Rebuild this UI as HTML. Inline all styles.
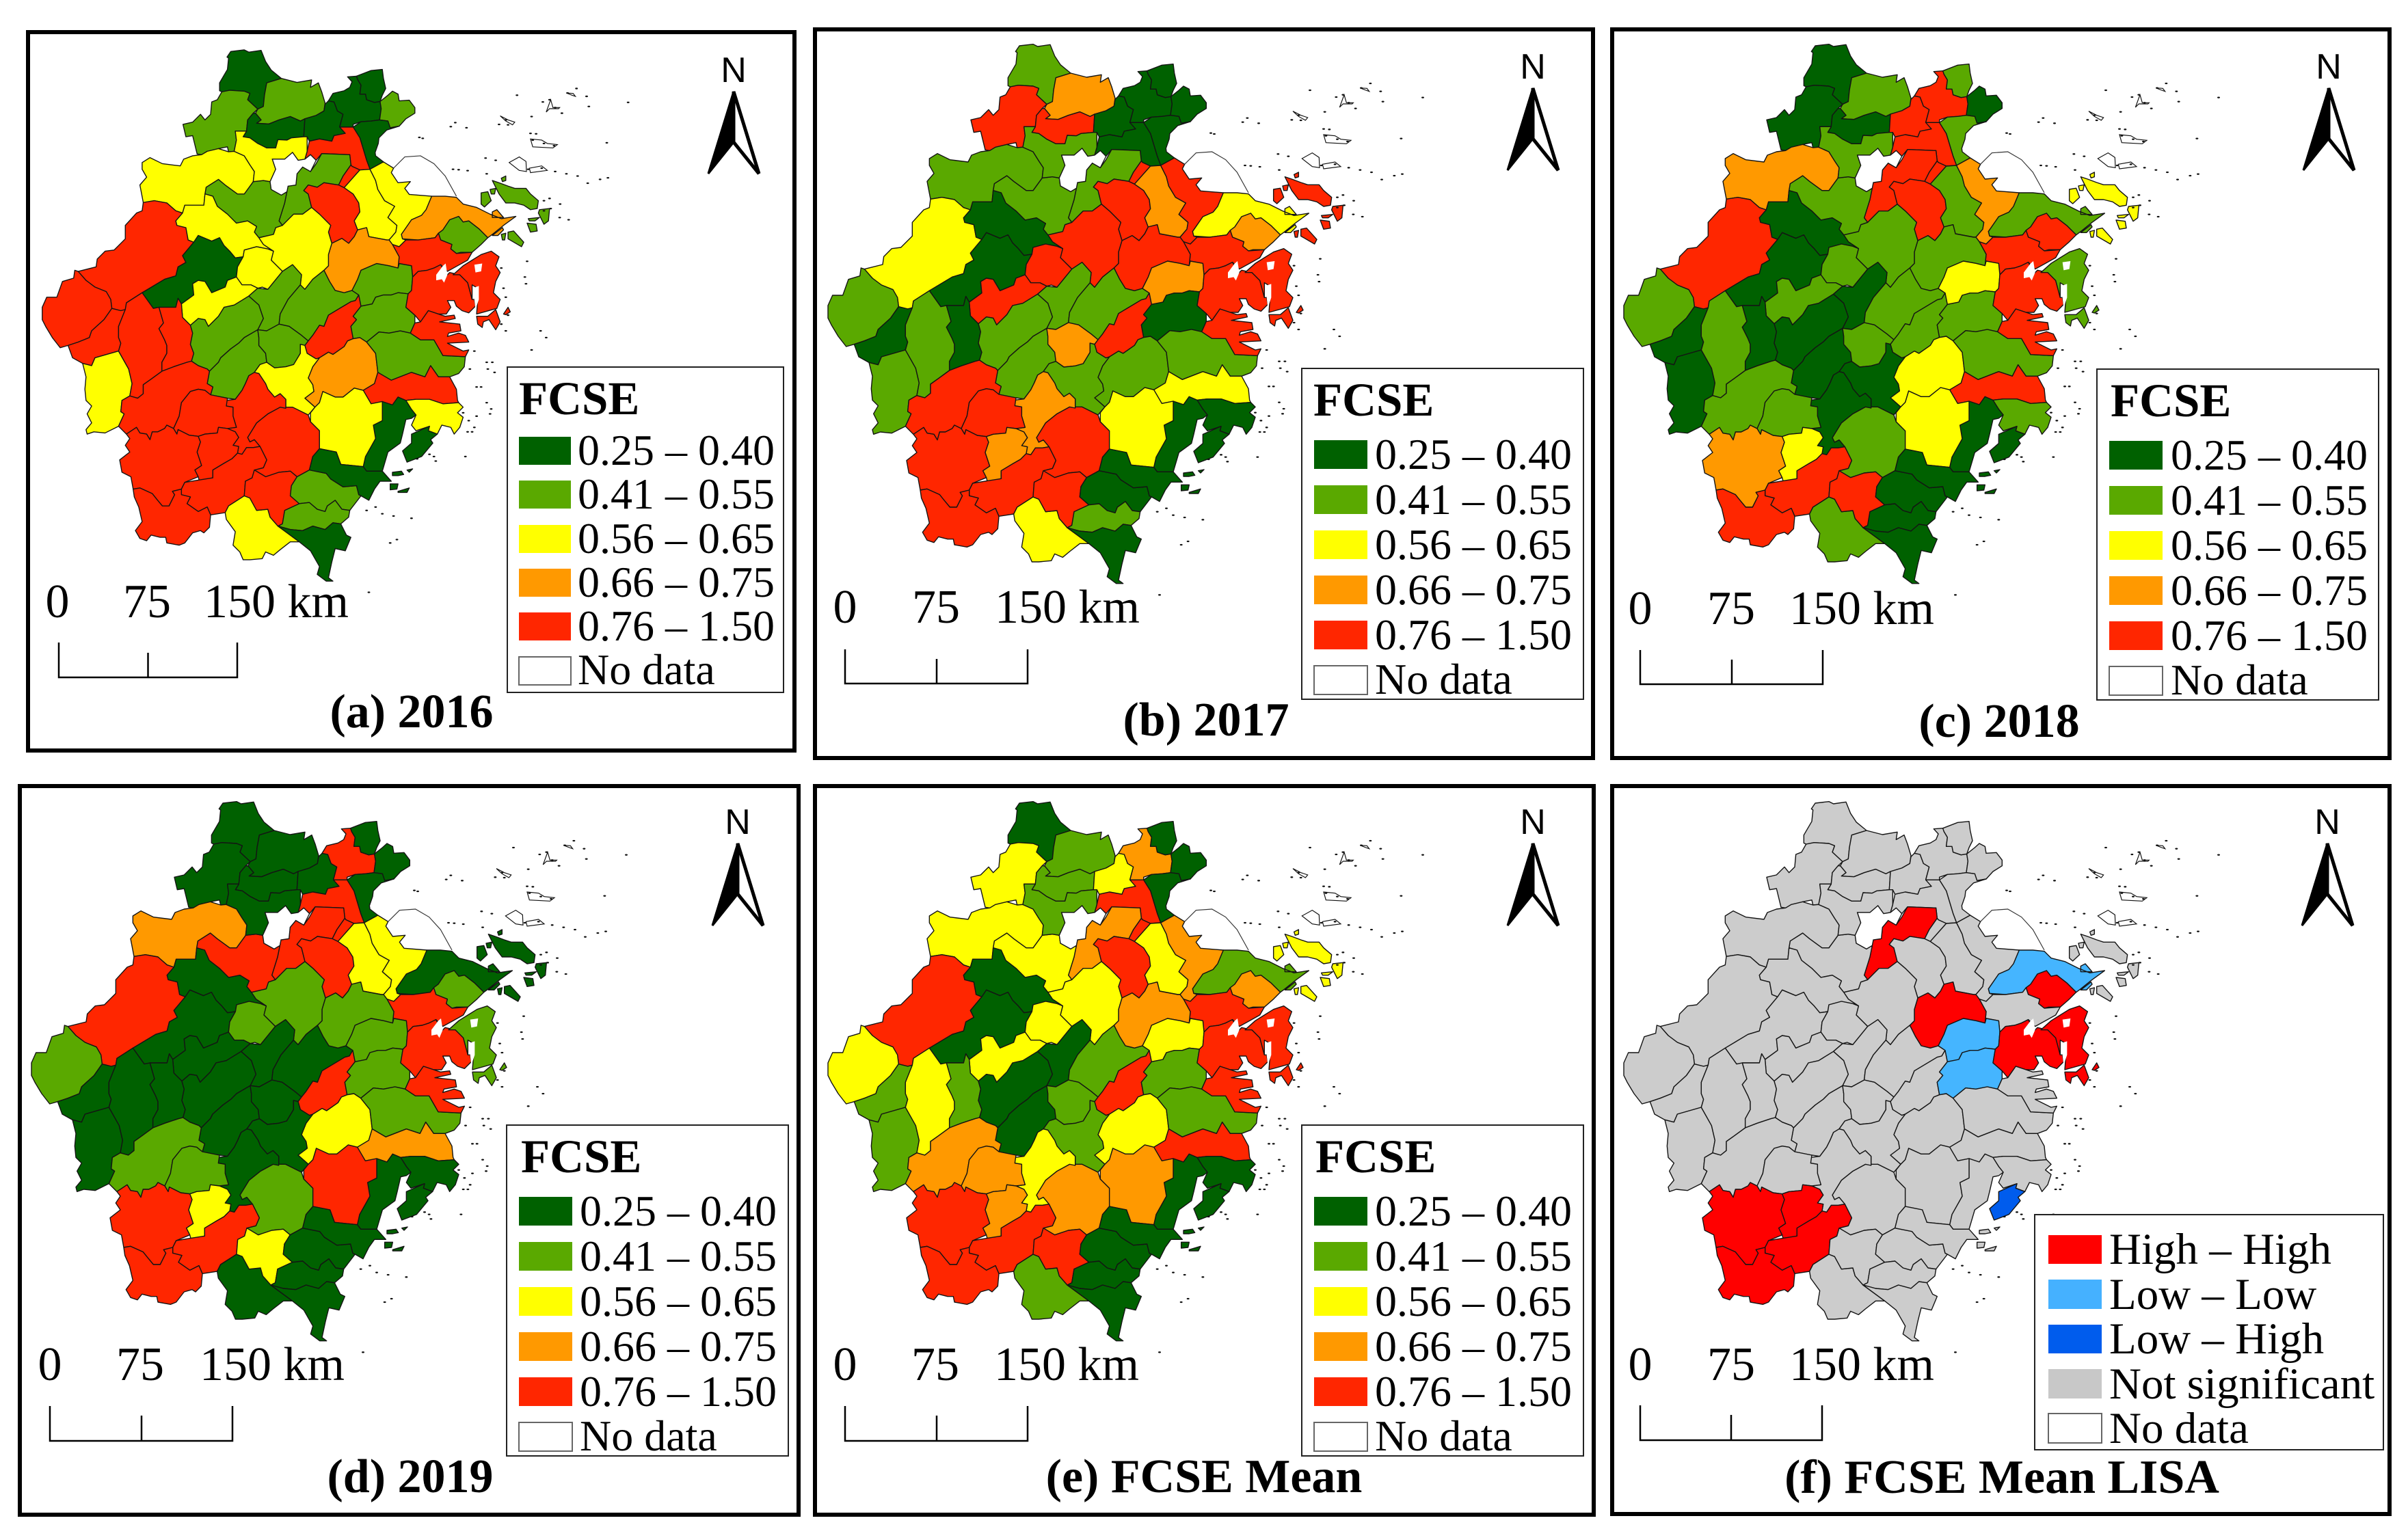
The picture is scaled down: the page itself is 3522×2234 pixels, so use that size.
<!DOCTYPE html>
<html lang="en">
<head>
<meta charset="utf-8">
<title>FCSE maps of Zhejiang counties, 2016–2019, mean and LISA</title>
<style>
html,body{margin:0;padding:0;background:#fff;}
svg{display:block;}
text{font-family:"Liberation Serif",serif;fill:#000;}
.lab{font-size:64px;}
#panel-f .lab{font-size:65px;}
.ttl{font-size:70px;font-weight:bold;}
.fc{font-size:69px;font-weight:bold;}
.scl{font-size:70px;}
.nn{font-family:"Liberation Sans",sans-serif;font-size:52px;text-anchor:middle;}
.frame{fill:none;stroke:#000;stroke-width:6;}
.box{fill:#fff;stroke:#222;stroke-width:2;}
.bar{fill:none;stroke:#000;stroke-width:2.5;}
.nd{fill:#fff;stroke:#666;stroke-width:2;}
.c1{fill:#006100}.c2{fill:#5aa900}.c3{fill:#ffff00}.c4{fill:#ff9900}.c5{fill:#ff2600}
.l1{fill:#ff0000}.l2{fill:#45b1ff}.l3{fill:#005ced}.l4{fill:#cccccc}
</style>
</head>
<body>
<svg id="figure" xmlns="http://www.w3.org/2000/svg" width="3522" height="2234" viewBox="0 0 3522 2234">
<rect width="3522" height="2234" fill="#fff"/>

<!-- PANEL A -->
<g>
<rect class="frame" x="41" y="47" width="1121" height="1051"/>
<g id="map-a"></g>
<g transform="translate(1073,120)"><text class="nn">N</text><polygon points="0,14 -37,134 0,88" fill="#000" stroke="#000" stroke-width="3"/><polygon points="0,14 37,134 0,88" fill="#fff" stroke="#000" stroke-width="5"/></g>
<rect class="box" x="742" y="537" width="404" height="476"/>
<text class="fc" x="759" y="606">FCSE</text>
<rect class="c1" x="759" y="639" width="76" height="41"/><text class="lab" x="845" y="680">0.25 – 0.40</text>
<rect class="c2" x="759" y="703" width="76" height="41"/><text class="lab" x="845" y="744">0.41 – 0.55</text>
<rect class="c3" x="759" y="768" width="76" height="41"/><text class="lab" x="845" y="809">0.56 – 0.65</text>
<rect class="c4" x="759" y="832" width="76" height="41"/><text class="lab" x="845" y="873">0.66 – 0.75</text>
<rect class="c5" x="759" y="896" width="76" height="41"/><text class="lab" x="845" y="937">0.76 – 1.50</text>
<rect class="nd" x="759" y="961" width="76" height="41"/><text class="lab" x="845" y="1001">No data</text>
<text class="scl" x="84" y="903" text-anchor="middle">0</text>
<text class="scl" x="215" y="903" text-anchor="middle">75</text>
<text class="scl" x="298" y="903">150 km</text>
<path class="bar" d="M86 940V991H347V940M216.500 955V991"/>
<text class="ttl" x="602" y="1064" text-anchor="middle">(a) 2016</text>
</g>

<!-- PANEL B -->
<g>
<rect class="frame" x="1192" y="43" width="1138" height="1066"/>
<g id="map-b"></g>
<g transform="translate(2242,115)"><text class="nn">N</text><polygon points="0,14 -37,134 0,88" fill="#000" stroke="#000" stroke-width="3"/><polygon points="0,14 37,134 0,88" fill="#fff" stroke="#000" stroke-width="5"/></g>
<rect class="box" x="1904" y="539" width="412" height="484"/>
<text class="fc" x="1921" y="608">FCSE</text>
<rect class="c1" x="1922" y="644" width="78" height="42"/><text class="lab" x="2011" y="686">0.25 – 0.40</text>
<rect class="c2" x="1922" y="710" width="78" height="42"/><text class="lab" x="2011" y="752">0.41 – 0.55</text>
<rect class="c3" x="1922" y="776" width="78" height="42"/><text class="lab" x="2011" y="818">0.56 – 0.65</text>
<rect class="c4" x="1922" y="842" width="78" height="42"/><text class="lab" x="2011" y="884">0.66 – 0.75</text>
<rect class="c5" x="1922" y="908" width="78" height="42"/><text class="lab" x="2011" y="950">0.76 – 1.50</text>
<rect class="nd" x="1922" y="974" width="78" height="42"/><text class="lab" x="2011" y="1015">No data</text>
<text class="scl" x="1236" y="911" text-anchor="middle">0</text>
<text class="scl" x="1369" y="911" text-anchor="middle">75</text>
<text class="scl" x="1455" y="911">150 km</text>
<path class="bar" d="M1236 950V1000H1503V950M1370 964V1000"/>
<text class="ttl" x="1764" y="1076" text-anchor="middle">(b) 2017</text>
</g>

<!-- PANEL C -->
<g>
<rect class="frame" x="2358" y="43" width="1137" height="1066"/>
<g id="map-c"></g>
<g transform="translate(3406,115)"><text class="nn">N</text><polygon points="0,14 -37,134 0,88" fill="#000" stroke="#000" stroke-width="3"/><polygon points="0,14 37,134 0,88" fill="#fff" stroke="#000" stroke-width="5"/></g>
<rect class="box" x="3067" y="540" width="412" height="484"/>
<text class="fc" x="3087" y="609">FCSE</text>
<rect class="c1" x="3085" y="645" width="78" height="42"/><text class="lab" x="3175" y="687">0.25 – 0.40</text>
<rect class="c2" x="3085" y="711" width="78" height="42"/><text class="lab" x="3175" y="753">0.41 – 0.55</text>
<rect class="c3" x="3085" y="777" width="78" height="42"/><text class="lab" x="3175" y="819">0.56 – 0.65</text>
<rect class="c4" x="3085" y="843" width="78" height="42"/><text class="lab" x="3175" y="885">0.66 – 0.75</text>
<rect class="c5" x="3085" y="909" width="78" height="42"/><text class="lab" x="3175" y="951">0.76 – 1.50</text>
<rect class="nd" x="3085" y="975" width="78" height="42"/><text class="lab" x="3175" y="1016">No data</text>
<text class="scl" x="2399" y="913" text-anchor="middle">0</text>
<text class="scl" x="2532" y="913" text-anchor="middle">75</text>
<text class="scl" x="2617" y="913">150 km</text>
<path class="bar" d="M2399 951V1001H2666V951M2533 965V1001"/>
<text class="ttl" x="2924" y="1078" text-anchor="middle">(c) 2018</text>
</g>

<!-- PANEL D -->
<g>
<rect class="frame" x="29" y="1150" width="1139" height="1066"/>
<g id="map-d"></g>
<g transform="translate(1079,1220)"><text class="nn">N</text><polygon points="0,14 -37,134 0,88" fill="#000" stroke="#000" stroke-width="3"/><polygon points="0,14 37,134 0,88" fill="#fff" stroke="#000" stroke-width="5"/></g>
<rect class="box" x="741" y="1646" width="412" height="484"/>
<text class="fc" x="762" y="1715">FCSE</text>
<rect class="c1" x="759" y="1751" width="78" height="42"/><text class="lab" x="848" y="1793">0.25 – 0.40</text>
<rect class="c2" x="759" y="1817" width="78" height="42"/><text class="lab" x="848" y="1859">0.41 – 0.55</text>
<rect class="c3" x="759" y="1883" width="78" height="42"/><text class="lab" x="848" y="1925">0.56 – 0.65</text>
<rect class="c4" x="759" y="1949" width="78" height="42"/><text class="lab" x="848" y="1991">0.66 – 0.75</text>
<rect class="c5" x="759" y="2015" width="78" height="42"/><text class="lab" x="848" y="2057">0.76 – 1.50</text>
<rect class="nd" x="759" y="2081" width="78" height="42"/><text class="lab" x="848" y="2122">No data</text>
<text class="scl" x="73" y="2019" text-anchor="middle">0</text>
<text class="scl" x="205" y="2019" text-anchor="middle">75</text>
<text class="scl" x="292" y="2019">150 km</text>
<path class="bar" d="M73 2057V2108H340V2057M207 2071V2108"/>
<text class="ttl" x="600" y="2183" text-anchor="middle">(d) 2019</text>
</g>

<!-- PANEL E -->
<g>
<rect class="frame" x="1192" y="1150" width="1139" height="1066"/>
<g id="map-e"></g>
<g transform="translate(2242,1220)"><text class="nn">N</text><polygon points="0,14 -37,134 0,88" fill="#000" stroke="#000" stroke-width="3"/><polygon points="0,14 37,134 0,88" fill="#fff" stroke="#000" stroke-width="5"/></g>
<rect class="box" x="1904" y="1646" width="412" height="484"/>
<text class="fc" x="1924" y="1715">FCSE</text>
<rect class="c1" x="1922" y="1751" width="78" height="42"/><text class="lab" x="2011" y="1793">0.25 – 0.40</text>
<rect class="c2" x="1922" y="1817" width="78" height="42"/><text class="lab" x="2011" y="1859">0.41 – 0.55</text>
<rect class="c3" x="1922" y="1883" width="78" height="42"/><text class="lab" x="2011" y="1925">0.56 – 0.65</text>
<rect class="c4" x="1922" y="1949" width="78" height="42"/><text class="lab" x="2011" y="1991">0.66 – 0.75</text>
<rect class="c5" x="1922" y="2015" width="78" height="42"/><text class="lab" x="2011" y="2057">0.76 – 1.50</text>
<rect class="nd" x="1922" y="2081" width="78" height="42"/><text class="lab" x="2011" y="2122">No data</text>
<text class="scl" x="1236" y="2019" text-anchor="middle">0</text>
<text class="scl" x="1368" y="2019" text-anchor="middle">75</text>
<text class="scl" x="1454" y="2019">150 km</text>
<path class="bar" d="M1236 2057V2108H1503V2057M1370 2071V2108"/>
<text class="ttl" x="1761" y="2183" text-anchor="middle">(e) FCSE Mean</text>
</g>

<!-- PANEL F -->
<g id="panel-f">
<rect class="frame" x="2358" y="1150" width="1137" height="1065"/>
<g id="map-f"></g>
<g transform="translate(3404,1220)"><text class="nn">N</text><polygon points="0,14 -37,134 0,88" fill="#000" stroke="#000" stroke-width="3"/><polygon points="0,14 37,134 0,88" fill="#fff" stroke="#000" stroke-width="5"/></g>
<rect class="box" x="2976" y="1777" width="510" height="344"/>
<rect class="l1" x="2996" y="1807" width="78" height="42"/><text class="lab" x="3085" y="1849">High – High</text>
<rect class="l2" x="2996" y="1872" width="78" height="43"/><text class="lab" x="3085" y="1915">Low – Low</text>
<rect class="l3" x="2996" y="1938" width="78" height="42"/><text class="lab" x="3085" y="1980">Low – High</text>
<rect x="2996" y="2003" width="78" height="43" fill="#c8c8c8"/><text class="lab" x="3085" y="2046">Not significant</text>
<rect class="nd" x="2996" y="2068" width="78" height="43"/><text class="lab" x="3085" y="2111">No data</text>
<text class="scl" x="2399" y="2019" text-anchor="middle">0</text>
<text class="scl" x="2532" y="2019" text-anchor="middle">75</text>
<text class="scl" x="2617" y="2019">150 km</text>
<path class="bar" d="M2399 2056V2107H2665V2056M2532 2070V2107"/>
<text class="ttl" x="2928" y="2184" text-anchor="middle">(f) FCSE Mean LISA</text>
</g>
</svg>

<script>
// Class of every county per panel: 1 = 0.25–0.40, 2 = 0.41–0.55, 3 = 0.56–0.65, 4 = 0.66–0.75, 5 = 0.76–1.50
const fcse2016 = [1,2,2,1,1,1,1,2,1,5, 5,2,5,3,3,4,2,5,4,3, 2,3,3,5,3,1,3,3,2,2, 5,5,3,5,5,2,2,2,5,2, 2,4,3,5,5,5,5,5,5,5, 5,3,5,2,2,1,2,5,3,1, 1,3,1,5,5,5,5,2,1];
const fcse2017 = [2,4,5,5,1,1,1,1,1,1, 5,2,5,4,5,3,4,5,5,5, 2,2,2,3,1,1,5,5,2,2, 2,1,2,2,1,2,2,4,5,4, 1,2,2,5,4,5,5,5,4,5, 5,3,5,1,2,1,2,3,1,1, 1,3,1,5,5,5,5,5,1];
const fcse2018 = [1,2,1,1,5,5,2,1,2,5, 5,5,5,2,4,2,5,5,2,2, 2,4,2,5,1,1,2,2,1,2, 2,1,1,2,1,1,1,2,2,3, 2,3,1,2,1,2,2,4,3,5, 5,2,5,1,1,1,2,5,2,1, 1,3,1,5,2,2,5,3,1];
const fcse2019 = [1,1,1,1,1,5,1,1,1,5, 5,5,5,3,3,1,2,5,2,2, 5,4,1,5,1,1,2,1,1,1, 2,1,1,1,1,1,1,1,5,2, 2,3,1,2,1,2,2,5,3,5, 5,1,3,1,1,1,2,4,1,1, 1,5,1,5,2,2,5,1,1];
const fcseMean = [1,2,3,2,3,4,1,1,1,5, 5,4,5,3,4,2,4,5,4,3, 3,3,2,5,1,1,3,3,1,2, 3,2,2,3,2,1,1,2,5,3, 2,3,2,4,3,4,4,5,4,5, 5,2,5,1,1,1,2,5,1,1, 1,4,1,5,5,5,5,3,1];
// LISA cluster per county: 1 = High–High, 2 = Low–Low, 3 = Low–High, 4 = Not significant
const lisaClusters = [4,4,4,4,4,4,4,4,4,4, 4,1,4,4,4,2,1,4,1,4, 4,4,4,4,4,4,4,4,4,4, 4,4,4,4,4,4,4,4,4,2, 2,4,4,4,4,4,4,1,1,1, 1,4,4,4,4,4,4,4,4,3, 4,4,4,1,1,1,4,4,4];

// County boundaries in shared map units; "|" separates the parts of a multi-part county.
const countyOutlines = [
"868,70 885,45 945,38 965,48 1020,40 1040,90 1065,128 1110,165 1045,185 1035,240 1030,290 1005,302 960,260 970,232 945,222 880,218 845,225 835,220 835,185 870,125 875,75",
"1110,165 1180,183 1245,172 1240,205 1275,185 1290,225 1305,275 1300,310 1265,330 1215,345 1195,355 1150,335 1100,350 1055,368 1000,365 1020,350 995,320 1005,302 1030,290 1035,240 1045,185",
"845,225 880,218 945,222 970,232 960,260 1005,302 985,320 960,350 955,400 905,400 910,440 900,490 875,492 870,470 830,478 820,490 780,490 755,505 735,502 715,420 685,425 672,370 715,360 750,325 770,350 795,325 800,270 825,260",
"985,320 995,320 1020,350 1000,365 1055,368 1100,350 1150,335 1195,355 1215,345 1210,425 1155,430 1135,440 1095,438 1085,475 1045,475 1005,455 970,430 940,425 955,400 960,350",
"1305,280 1320,265 1345,270 1360,310 1385,325 1370,380 1395,410 1345,420 1335,445 1280,435 1235,445 1225,425 1210,425 1215,345 1265,330 1300,310",
"1320,265 1340,232 1390,220 1415,205 1425,180 1405,158 1445,155 1450,170 1465,195 1460,235 1485,235 1490,260 1525,272 1550,268 1555,300 1548,350 1510,355 1465,358 1430,370 1430,382 1370,382 1385,325 1360,310 1345,270",
"1445,155 1510,130 1560,125 1565,165 1575,210 1560,240 1550,268 1525,272 1490,260 1485,235 1460,235 1465,195 1450,170",
"1550,268 1585,240 1605,222 1630,235 1635,265 1680,262 1705,295 1705,320 1665,345 1635,378 1595,385 1585,355 1548,350 1555,300",
"1430,382 1465,358 1510,355 1548,350 1585,355 1595,385 1635,378 1580,395 1545,430 1542,455 1528,495 1530,510 1565,537 1505,570 1490,530 1475,480 1460,430",
"1235,445 1280,435 1335,445 1345,420 1395,410 1370,382 1430,382 1460,430 1475,480 1490,530 1505,570 1460,573 1425,557 1420,550 1415,505 1290,500 1265,530 1240,505 1215,525 1225,490",
"1420,550 1425,557 1460,573 1390,652 1365,640 1385,600",
"1290,500 1415,505 1420,550 1385,600 1365,640 1300,630 1270,650 1230,640 1210,665 1230,680 1245,740 1205,770 1165,770 1115,820 1100,800 1125,720 1135,670 1140,645 1175,640 1180,590 1205,560 1240,580 1265,545",
"1245,740 1230,680 1210,665 1230,640 1270,650 1300,630 1365,640 1390,652 1430,680 1455,720 1460,760 1435,800 1450,840 1435,870 1410,900 1380,878 1335,900 1320,850 1330,820 1280,770",
"1390,652 1460,573 1505,570 1530,620 1540,660 1570,710 1615,735 1585,785 1625,820 1620,850 1590,885 1580,885 1500,870 1490,830 1450,840 1435,800 1460,760 1455,720 1430,680",
"1565,537 1610,565 1600,585 1630,630 1685,625 1660,655 1680,682 1780,690 1755,750 1735,775 1690,795 1645,860 1650,880 1665,885 1635,915 1605,905 1590,885 1620,850 1625,820 1585,785 1615,735 1570,710 1540,660 1530,620 1505,570",
"1780,690 1840,690 1890,695 1920,725 1980,740 2040,770 2090,790 2155,780 2100,820 2050,860 2030,875 1990,835 1945,800 1920,805 1900,780 1860,795 1830,840 1810,855 1795,875 1720,885 1650,880 1645,860 1690,795 1735,775 1755,750|2050,760 2070,750 2100,785 2050,785|2050,865 2095,830 2100,840 2075,865",
"1860,795 1900,780 1920,805 1945,800 1990,835 2030,875 2000,905 1960,940 1910,940 1890,945 1865,925 1870,905 1820,885 1810,855 1830,840",
"1665,885 1720,885 1795,875 1810,855 1820,885 1870,905 1865,925 1890,945 1960,940 1940,975 1895,1000 1850,1025 1820,995 1790,1010 1760,1020 1720,1025 1695,1050 1690,1000 1635,990 1630,1010 1635,960 1605,905 1635,915",
"1335,900 1380,878 1410,900 1435,870 1450,840 1490,830 1500,870 1580,885 1590,885 1605,905 1635,960 1630,1010 1590,1000 1535,990 1465,1020 1450,1060 1425,1110 1390,1120 1350,1110 1325,1070 1300,1020 1320,1000 1320,950",
"1115,820 1165,770 1205,770 1245,740 1280,770 1330,820 1320,850 1335,900 1320,950 1320,1000 1300,1020 1250,1060 1215,1105 1195,1085 1200,1040 1160,995 1115,1025 1100,1010 1065,975 1075,935 1030,905 1010,875 1075,860 1085,830",
"775,650 830,615 860,640 915,680 945,680 985,625 1030,620 1060,625 1065,660 1110,685 1135,670 1125,720 1100,800 1115,820 1085,830 1075,860 1010,875 990,850 1000,825 960,800 910,810 870,770 825,735 805,690 770,680",
"490,540 525,518 580,545 660,555 675,525 715,510 755,505 780,490 830,478 875,492 900,490 945,510 970,550 990,580 985,625 945,680 915,680 860,640 830,615 775,650 770,680 765,730 680,730 670,765 640,755 600,720 545,710 495,718 480,640 510,605 490,570",
"905,400 955,400 940,425 970,430 1005,455 1045,475 1085,475 1095,438 1135,440 1155,430 1210,425 1225,425 1225,490 1215,525 1185,530 1160,495 1125,525 1070,525 1085,570 1060,625 1030,620 985,625 990,580 970,550 945,510 900,490 910,440",
"495,718 545,710 600,720 640,755 670,765 640,800 645,820 685,830 695,885 720,895 670,955 685,985 650,1005 640,1045 590,1060 490,1120 420,1165 415,1195 395,1200 355,1190 350,1150 330,1115 280,1095 240,1065 205,1025 285,1005 290,970 325,935 365,930 415,880 415,820 465,765 490,755",
"670,765 680,730 765,730 770,680 805,690 825,735 870,770 910,810 960,800 1000,825 990,850 1010,875 1030,905 1075,935 1050,925 1000,915 945,930 940,960 905,965 880,935 855,910 835,875 800,890 740,865 720,895 695,885 685,830 645,820 640,800",
"720,895 740,865 800,890 835,875 855,910 880,935 905,965 940,960 915,1005 910,1050 870,1065 860,1095 800,1120 770,1070 740,1065 715,1080 720,1130 665,1170 650,1145 640,1185 565,1185 540,1190 490,1120 590,1060 640,1045 650,1005 685,985 670,955",
"945,930 1000,915 1050,925 1075,935 1065,975 1100,1010 1115,1025 1050,1105 1025,1095 1005,1100 975,1085 935,1085 910,1050 915,1005 940,960",
"715,1080 740,1065 770,1070 800,1120 860,1095 870,1065 910,1050 935,1085 975,1085 1005,1100 965,1135 900,1175 855,1185 830,1225 785,1270 770,1240 740,1235 705,1265 670,1230 665,1170 720,1130",
"965,1135 1005,1100 1050,1105 1115,1025 1160,995 1200,1040 1195,1085 1140,1150 1105,1215 1100,1260 1045,1290 1005,1285 1030,1235 1010,1175",
"1195,1085 1215,1105 1250,1060 1300,1020 1325,1070 1350,1110 1390,1120 1425,1110 1455,1130 1440,1155 1420,1160 1370,1190 1320,1220 1300,1270 1280,1265 1250,1310 1230,1335 1200,1310 1145,1270 1100,1260 1105,1215 1140,1150",
"45,1185 65,1140 110,1140 135,1070 185,1055 190,1020 205,1025 240,1065 280,1095 330,1115 350,1150 355,1190 320,1240 265,1290 255,1320 205,1340 160,1355 125,1365 90,1320 60,1270 45,1240",
"355,1190 395,1200 415,1195 385,1270 385,1320 395,1345 385,1380 280,1410 265,1445 225,1435 180,1410 160,1355 205,1340 255,1320 265,1290 320,1240",
"225,1435 265,1445 280,1410 385,1380 430,1460 445,1525 435,1580 400,1600 395,1650 410,1660 385,1715 325,1745 275,1740 245,1750 240,1730 265,1700 245,1660 265,1625 240,1600 235,1550 240,1495",
"415,1195 420,1165 490,1120 540,1190 565,1185 585,1255 565,1280 590,1330 600,1355 600,1390 578,1430 578,1470 530,1505 495,1530 495,1570 470,1590 435,1580 445,1525 430,1460 385,1380 395,1345 385,1320 385,1270",
"565,1185 640,1185 650,1145 665,1170 670,1230 705,1265 715,1300 705,1350 720,1390 710,1425 690,1430 630,1450 578,1470 578,1430 600,1390 600,1355 590,1330 565,1280 585,1255",
"705,1265 740,1235 770,1240 785,1270 830,1225 855,1185 900,1175 965,1135 1010,1175 1030,1235 1005,1285 945,1320 920,1345 885,1370 840,1410 830,1430 790,1470 780,1460 740,1445 710,1425 720,1390 705,1350 715,1300",
"1005,1285 1010,1320 1010,1355 1040,1390 1045,1430 1015,1440 990,1475 965,1490 950,1525 935,1555 905,1595 870,1590 795,1575 805,1540 780,1525 790,1470 830,1430 840,1410 885,1370 920,1345 945,1320",
"1005,1285 1045,1290 1100,1260 1145,1270 1200,1310 1230,1335 1215,1355 1195,1350 1195,1390 1165,1440 1130,1450 1080,1455 1045,1430 1040,1390 1010,1355 1010,1320",
"1230,1335 1250,1310 1280,1265 1300,1270 1320,1220 1370,1190 1420,1160 1440,1155 1455,1130 1465,1180 1430,1225 1445,1240 1420,1270 1430,1325 1405,1335 1390,1360 1340,1395 1320,1385 1280,1410 1265,1415 1225,1390 1215,1355",
"1465,1020 1535,990 1590,1000 1630,1010 1635,990 1690,1000 1695,1050 1690,1110 1675,1125 1630,1120 1600,1130 1565,1130 1530,1140 1515,1170 1465,1180 1455,1130 1425,1110 1450,1060",
"1465,1180 1515,1170 1530,1140 1565,1130 1600,1130 1630,1120 1675,1125 1665,1185 1705,1220 1705,1255 1685,1300 1640,1290 1590,1300 1545,1295 1490,1340 1460,1320 1430,1325 1420,1270 1445,1240 1430,1225",
"1280,1410 1320,1385 1340,1395 1390,1360 1405,1335 1430,1325 1460,1320 1490,1340 1530,1390 1540,1475 1525,1525 1475,1555 1435,1545 1385,1585 1350,1585 1295,1560 1280,1610 1260,1630 1215,1590 1255,1560 1250,1530 1230,1500 1250,1450",
"1015,1440 1045,1430 1080,1455 1130,1450 1165,1440 1195,1390 1195,1350 1215,1355 1225,1390 1265,1415 1280,1410 1250,1450 1230,1500 1250,1530 1255,1560 1215,1590 1260,1630 1230,1665 1160,1630 1130,1635 1130,1595 1105,1570 1080,1585 1050,1550 1040,1525 1010,1480 990,1475",
"960,1765 1000,1700 1050,1660 1105,1630 1160,1630 1230,1665 1240,1695 1280,1735 1280,1815 1250,1850 1235,1910 1180,1940 1150,1915 1100,1920 1040,1940 990,1910 1030,1900 1045,1865 1015,1805 990,1775 970,1785",
"865,1600 905,1595 935,1555 950,1525 965,1490 990,1475 1010,1480 1040,1525 1050,1550 1080,1585 1105,1570 1130,1595 1130,1635 1105,1630 1050,1660 1000,1700 960,1765 970,1785 990,1775 1015,1805 985,1810 955,1810 935,1840 915,1835 920,1805 895,1800 920,1765 905,1740 870,1725 910,1720 895,1670 895,1630 865,1625",
"400,1600 435,1580 470,1590 495,1570 495,1530 530,1505 578,1470 630,1450 690,1430 710,1425 740,1445 780,1460 790,1470 780,1525 805,1540 795,1575 770,1555 740,1550 705,1560 665,1610 655,1670 630,1725 600,1710 590,1725 560,1740 535,1740 525,1775 510,1750 480,1745 465,1720 420,1750 385,1715 410,1660 395,1650",
"630,1725 655,1670 665,1610 705,1560 740,1550 770,1555 795,1575 870,1590 865,1625 895,1630 895,1670 910,1720 870,1725 830,1720 825,1745 770,1750 740,1760 700,1755 650,1730 645,1750",
"420,1750 465,1720 480,1745 510,1750 525,1775 535,1740 560,1740 590,1725 600,1710 630,1725 645,1750 650,1730 700,1755 740,1760 750,1785 735,1830 755,1890 725,1910 740,1940 680,1965 665,1995 625,2005 635,2020 610,2070 580,2070 555,2040 535,2015 480,1990 450,1995 440,1940 400,1920 390,1865 435,1830 415,1800 435,1770",
"740,1760 770,1750 825,1745 830,1720 870,1725 905,1740 920,1765 895,1800 920,1805 915,1835 890,1860 855,1880 805,1910 805,1945 745,1960 740,1940 725,1910 755,1890 735,1830 750,1785",
"740,1955 805,1945 805,1910 855,1880 890,1860 915,1835 935,1840 955,1810 985,1810 1015,1805 1045,1865 1030,1900 990,1910 980,1945 950,1960 945,2025 875,2070 860,2100 795,2110 780,2075 740,2095 690,2060 705,2030 665,2020 665,1995 680,1965",
"450,1995 480,1990 535,2015 555,2040 580,2070 610,2070 635,2020 625,2005 665,1995 665,2020 705,2030 690,2060 740,2095 780,2075 795,2110 790,2165 765,2190 750,2180 715,2190 680,2235 655,2245 600,2235 595,2210 570,2210 530,2200 510,2225 480,2215 460,2180 490,2140 475,2075 455,2030",
"875,2070 945,2025 970,2035 1000,2090 1050,2085 1060,2120 1095,2160 1190,2230 1150,2230 1105,2265 1075,2290 1040,2275 1025,2305 970,2310 940,2310 925,2275 895,2245 905,2185 865,2130 860,2100",
"945,2025 950,1960 980,1945 990,1910 1040,1940 1100,1920 1150,1915 1180,1940 1155,1980 1150,2025 1190,2060 1125,2090 1115,2150 1095,2160 1060,2120 1050,2085 1000,2090 970,2035",
"1180,1940 1235,1910 1310,1925 1330,1950 1385,1985 1445,1980 1455,2020 1465,2025 1415,2090 1380,2085 1350,2045 1315,2070 1305,2095 1270,2085 1235,2055 1190,2060 1150,2025 1155,1980",
"1125,2090 1190,2060 1235,2055 1270,2085 1305,2095 1315,2070 1350,2045 1380,2085 1415,2090 1410,2120 1375,2150 1340,2145 1305,2175 1250,2160 1205,2180 1150,2175 1095,2160 1115,2150",
"1095,2160 1150,2175 1205,2180 1250,2160 1305,2175 1340,2145 1375,2150 1400,2200 1420,2210 1395,2270 1350,2260 1335,2320 1320,2390 1340,2405 1310,2405 1270,2375 1280,2340 1240,2270 1190,2230",
"1490,1340 1545,1295 1590,1300 1640,1290 1685,1300 1730,1330 1790,1330 1830,1400 1930,1405 1925,1450 1900,1480 1860,1495 1810,1495 1775,1445 1750,1495 1690,1475 1600,1510 1540,1475 1530,1390",
"1540,1475 1600,1510 1690,1475 1750,1495 1775,1445 1810,1495 1860,1495 1890,1550 1895,1600 1900,1610 1830,1615 1770,1595 1710,1595 1665,1600 1630,1585 1605,1620 1560,1605 1510,1615 1475,1555 1525,1525",
"1665,1600 1710,1595 1770,1595 1830,1615 1900,1610 1920,1630 1895,1655 1920,1675 1905,1720 1880,1750 1865,1720 1825,1710 1805,1750 1765,1735 1770,1715 1710,1735 1690,1710 1710,1665 1690,1640",
"1650,1825 1690,1790 1690,1750 1770,1715 1765,1735 1805,1750 1775,1775 1785,1790 1735,1850 1670,1875",
"1560,1605 1605,1620 1630,1585 1665,1600 1690,1640 1710,1665 1690,1680 1665,1685 1650,1750 1640,1790 1585,1830 1560,1915 1490,1915 1475,1895 1485,1850 1530,1770 1520,1710 1560,1690",
"1295,1560 1350,1585 1385,1585 1435,1545 1475,1555 1510,1615 1560,1605 1560,1690 1520,1710 1530,1770 1485,1850 1475,1895 1375,1885 1355,1830 1280,1815 1280,1735 1240,1695 1240,1655 1260,1630 1280,1610",
"1280,1815 1355,1830 1375,1885 1475,1895 1490,1915 1560,1915 1600,1960 1550,1960 1525,1995 1500,2045 1465,2025 1455,2020 1445,1980 1385,1985 1330,1950 1310,1925 1235,1910 1250,1850",
"1675,1125 1690,1110 1695,1050 1720,1025 1760,1020 1790,1010 1820,995 1845,1045 1860,1030 1905,1040 1940,1075 1960,1150 1970,1150 1975,1180 1945,1210 1915,1200 1890,1180 1880,1155 1850,1155 1865,1185 1845,1215 1810,1215 1765,1200 1730,1250 1705,1220 1665,1185",
"1875,1040 1920,1000 1960,975 2000,950 2045,935 2080,960 2065,1000 2085,1030 2065,1070 2055,1120 2085,1150 2070,1190 1980,1215 1985,1150 1985,1100 1960,1085 1960,1150 1940,1075 1905,1040",
"1980,1225 2030,1225 2065,1195 2085,1250 2065,1285 2035,1240 2010,1250 2005,1275 1985,1260|2100,1215 2120,1185 2130,1205 2110,1218",
"1685,1300 1705,1255 1730,1250 1765,1200 1810,1215 1840,1225 1880,1220 1885,1235 1815,1250 1905,1260 1910,1290 1855,1300 1850,1315 1900,1300 1930,1310 1945,1340 1850,1345 1920,1380 1945,1375 1930,1405 1830,1400 1790,1330 1730,1330",
"2050,620 2080,630 2120,645 2150,655 2200,655 2220,680 2255,710 2250,745 2220,750 2190,730 2150,720 2110,720 2080,680|2000,675 2030,670 2045,710 2015,738 2000,725|2040,660 2065,655 2060,680 2045,680|2090,610 2110,600 2110,620 2095,625|2260,750 2305,745 2300,800 2280,815 2255,765|2205,810 2245,815 2250,845 2220,850|2120,850 2145,845 2190,895 2180,915 2120,880|2090,860 2110,855 2105,885 2095,885|2210,790 2260,785 2240,800 2215,800",
"1605,1920 1645,1915 1655,1930 1630,1935 1605,1935|1595,1972 1630,1972 1625,1995 1595,1998|1630,2005 1680,1990 1670,2010 1630,2010|1670,1910 1695,1905 1680,1920"
];

// Uncoloured geography shared by all panels
const noDataAreas = [
"1070,525 1125,525 1160,495 1185,530 1215,525 1240,505 1265,530 1240,580 1205,560 1180,590 1175,640 1140,645 1135,670 1110,685 1065,660 1060,625 1085,570",
"1970,995 2005,990 2000,1025 1975,1030",
"1800,1040 1830,1000 1842,990 1850,1040 1835,1075 1825,1060 1800,1065",
"1975,1095 1990,1090 1990,1150 1975,1195 1970,1150"
];
const bayLine = "1610,565 1660,515 1730,510 1790,545 1840,600 1890,690";
const outerIslets = [
"2220,435 2270,440 2295,455 2340,460 2320,475 2230,470",
"2085,332 2120,350 2150,360 2140,372 2110,355",
"2125,540 2170,515 2200,535 2202,580 2170,575",
"2215,565 2270,555 2295,575 2220,585",
"2290,315 2310,260 2320,295 2350,295 2345,300 2305,300",
"2380,230 2410,232 2420,245 2405,240"
];
const reefSpecksX = [2160,2275,2305,2360,2330,2385,2425,2470,2480,2655,2225,2110,2120,2080,1885,1865,1935,1725,1740,2220,2245,2230,2280,2325,2560,2065,2020,1875,1900,1940,2025,2210,2270,2330,2380,2430,2475,2530,2565,2305,2280,2310,2352,2350,2390,2280,2205,2195,2200,2090,2100,2110,2120,2090,2110,2225,2025,2030,2060,1980,2000,2025,2045,2040,2050,1945,1980,1970,1940,1960,1930,1790,1798,1770,1715,1490,1530,1560,1610,1690,1625,1595,1500,1950,1970,1920,2265,2290];
const reefSpecksY = [240,270,260,320,295,230,210,245,290,272,335,350,372,370,362,380,385,428,432,410,412,440,455,465,452,530,520,570,572,576,590,570,565,580,590,600,632,615,608,700,710,745,725,785,795,755,980,1050,1080,1010,1100,1140,1220,1260,1290,1375,1430,1460,1475,1540,1540,1610,1638,1660,1430,1690,1670,1720,1740,1740,1850,1850,1870,1840,1860,2090,2075,2105,2115,2125,2220,2235,2455,1460,1380,1655,1290,1320];

const fcseFills = ["", "#006100", "#5aa900", "#ffff00", "#ff9900", "#ff2600"];
const lisaFills = ["", "#ff0000", "#45b5ff", "#005ced", "#cccccc"];

// Panel placement: map-unit to pixel mapping of each panel's county layer
function panelScale(s) { return s / 3; }

function outlineToPath(text) {
  return text.split("|").map(function (part) { return "M" + part.trim().split(/\s+/).join("L") + "Z"; }).join("");
}

const SVGNS = "http://www.w3.org/2000/svg";

function drawMap(id, tx, ty, s, classes, fills) {
  const layer = document.getElementById(id);
  const k = panelScale(s);
  layer.setAttribute("transform", "translate(" + tx + "," + ty + ") scale(" + k + ")");

  countyOutlines.forEach(function (outline, i) {
    const county = document.createElementNS(SVGNS, "path");
    county.setAttribute("d", outlineToPath(outline));
    county.setAttribute("fill", fills[classes[i]]);
    county.setAttribute("stroke", "#141414");
    county.setAttribute("stroke-width", "4.2");
    county.setAttribute("stroke-linejoin", "round");
    
    
    layer.appendChild(county);
  });

  noDataAreas.forEach(function (outline, i) {
    const hole = document.createElementNS(SVGNS, "path");
    hole.setAttribute("d", outlineToPath(outline));
    hole.setAttribute("fill", "#ffffff");
    hole.setAttribute("stroke", i === 0 ? "#141414" : "none");
    hole.setAttribute("stroke-width", "4");
    
    
    layer.appendChild(hole);
  });

  const bay = document.createElementNS(SVGNS, "path");
  bay.setAttribute("d", "M" + bayLine.split(" ").join("L"));
  bay.setAttribute("fill", "none");
  bay.setAttribute("stroke", "#333");
  bay.setAttribute("stroke-width", "3.5");
  
  
  layer.appendChild(bay);

  outerIslets.forEach(function (outline) {
    const islet = document.createElementNS(SVGNS, "path");
    islet.setAttribute("d", outlineToPath(outline));
    islet.setAttribute("fill", "#ffffff");
    islet.setAttribute("stroke", "#111");
    islet.setAttribute("stroke-width", "3.5");
    
    
    layer.appendChild(islet);
  });

  reefSpecksX.forEach(function (x, i) {
    const speck = document.createElementNS(SVGNS, "ellipse");
    speck.setAttribute("cx", x);
    speck.setAttribute("cy", reefSpecksY[i]);
    speck.setAttribute("rx", 6);
    speck.setAttribute("ry", 3.5);
    speck.setAttribute("fill", "#111");
    
    
    layer.appendChild(speck);
  });
}

drawMap("map-a", 47, 60.5, 0.985, fcse2016, fcseFills);
drawMap("map-b", 1196, 52, 1, fcse2017, fcseFills);
drawMap("map-c", 2360, 52, 1, fcse2018, fcseFills);
drawMap("map-d", 31, 1160, 1, fcse2019, fcseFills);
drawMap("map-e", 1196, 1160, 1, fcseMean, fcseFills);
drawMap("map-f", 2360, 1160, 1, lisaClusters, lisaFills);
</script>
</body>
</html>
